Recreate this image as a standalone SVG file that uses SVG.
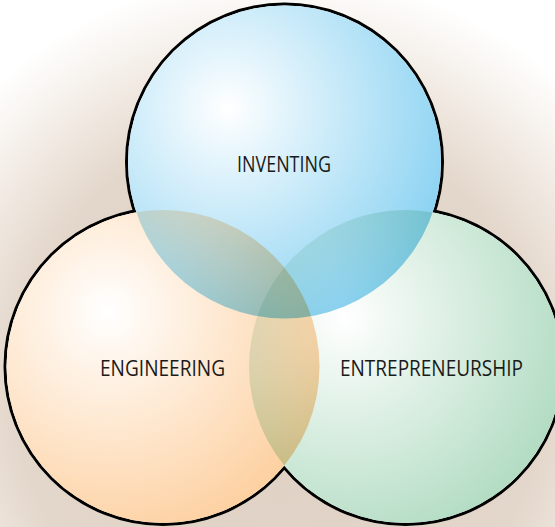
<svg xmlns="http://www.w3.org/2000/svg" width="555" height="527" viewBox="0 0 555 527">
  <defs>
    <radialGradient id="bg" gradientUnits="userSpaceOnUse" cx="280" cy="390" r="440">
      <stop offset="0" stop-color="#ded0c3"/>
      <stop offset="0.6" stop-color="#e3d6ca"/>
      <stop offset="0.8" stop-color="#f4eee8"/>
      <stop offset="0.95" stop-color="#ffffff"/>
    </radialGradient>
    <radialGradient id="gTop" gradientUnits="userSpaceOnUse" cx="228" cy="108" r="235">
      <stop offset="0" stop-color="#ffffff"/>
      <stop offset="1" stop-color="#8ad2f2"/>
    </radialGradient>
    <radialGradient id="gLeft" gradientUnits="userSpaceOnUse" cx="108" cy="312" r="240">
      <stop offset="0" stop-color="#ffffff"/>
      <stop offset="1" stop-color="#fdcf9e"/>
    </radialGradient>
    <radialGradient id="gRight" gradientUnits="userSpaceOnUse" cx="345" cy="318" r="240">
      <stop offset="0" stop-color="#ffffff"/>
      <stop offset="1" stop-color="#b0dbc1"/>
    </radialGradient>
    <style>
      .outline { fill: none; stroke: #000; stroke-width: 6; }
      .base { fill: #fff; }
      .fill { mix-blend-mode: multiply; }
      .label { font-family: "Open Sans", "Liberation Sans", sans-serif; font-size: 22px; fill: #1a1a1a; font-weight: 400; }
    </style>
  </defs>
  <rect x="0" y="0" width="555" height="527" fill="url(#bg)"/>
  <g id="outline">
    <circle class="outline" cx="163" cy="366.5" r="156.5"/>
    <circle class="outline" cx="405.5" cy="366.5" r="156.5"/>
    <circle class="outline" cx="284.5" cy="162" r="156.5"/>
  </g>
  <g id="venn" style="isolation:isolate">
    <circle class="base" cx="163" cy="366.5" r="156.5"/>
    <circle class="base" cx="405.5" cy="366.5" r="156.5"/>
    <circle class="base" cx="284.5" cy="162" r="156.5"/>
    <g id="engineering">
      <circle class="fill" cx="163" cy="366.5" r="156.5" fill="url(#gLeft)"/>
    </g>
    <g id="entrepreneurship">
      <circle class="fill" cx="405.5" cy="366.5" r="156.5" fill="url(#gRight)"/>
    </g>
    <g id="inventing">
      <circle class="fill" cx="284.5" cy="162" r="156.5" fill="url(#gTop)"/>
    </g>
  </g>
  <g id="labels">
    <text class="label" x="237" y="171.5" textLength="94" lengthAdjust="spacingAndGlyphs">INVENTING</text>
    <text class="label" x="100" y="375.5" textLength="125" lengthAdjust="spacingAndGlyphs">ENGINEERING</text>
    <text class="label" x="340" y="375.5" textLength="183" lengthAdjust="spacingAndGlyphs">ENTREPRENEURSHIP</text>
  </g>
</svg>
